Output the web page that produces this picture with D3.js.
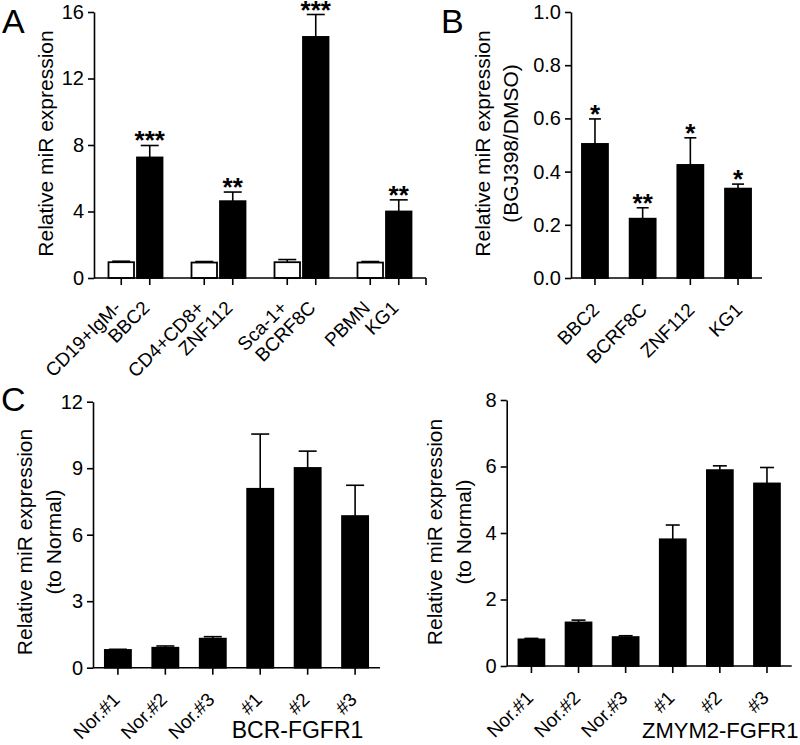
<!DOCTYPE html>
<html><head><meta charset="utf-8">
<script src="https://cdn.jsdelivr.net/npm/d3@7"></script>
<style>
body{margin:0;background:#fff}
svg{display:block}
text{font-family:"Liberation Sans",Arial,sans-serif;fill:#000}
</style>
</head><body>
<svg id="c" width="800" height="745"></svg>
<script>
// ---------- data ----------
const aCtrlLabels = ["CD19+IgM-", "CD4+CD8+", "Sca-1+", "PBMN"];
const aCellLabels = ["BBC2", "ZNF112", "BCRF8C", "KG1"];
const aCtrlValues = [0.95, 0.93, 0.95, 0.93];
const aCtrlErrors = [0.06, 0.06, 0.16, 0.06];
const aCellValues = [7.25, 4.62, 14.5, 4.0];
const aCellErrors = [0.72, 0.55, 1.35, 0.7];
const aStars = ["***", "**", "***", "**"];
const aTicks = [0, 4, 8, 12, 16];

const bLabels = ["BBC2", "BCRF8C", "ZNF112", "KG1"];
const bValues = [0.504, 0.223, 0.425, 0.336];
const bErrors = [0.094, 0.041, 0.102, 0.017];
const bStars = ["*", "**", "*", "*"];
const bTicks = [0, 0.2, 0.4, 0.6, 0.8, 1.0];

const cLabels = ["Nor.#1", "Nor.#2", "Nor.#3", "#1", "#2", "#3"];
const c1Values = [0.8, 0.9, 1.31, 8.07, 9.01, 6.84];
const c1Errors = [0.03, 0.08, 0.09, 2.47, 0.76, 1.39];
const c1Ticks = [0, 3, 6, 9, 12];
const c1Group = "BCR-FGFR1";
const c2Values = [0.8, 1.31, 0.87, 3.81, 5.89, 5.49];
const c2Errors = [0.03, 0.07, 0.04, 0.43, 0.13, 0.48];
const c2Ticks = [0, 2, 4, 6, 8];
const c2Group = "ZMYM2-FGFR1";

const yTitle = "Relative miR expression";

// ---------- helpers ----------
const svg = d3.select("#c");
const AX = 1.6;

function yAxis(x0, y, ticks, fmt) {
  const g = svg.append("g").attr("transform", `translate(${x0},0)`)
    .call(d3.axisLeft(y).tickValues(ticks).tickSize(6).tickPadding(4).tickSizeOuter(0).tickFormat(fmt));
  g.selectAll("path,line").attr("stroke", "#000").attr("stroke-width", AX);
  g.selectAll("text").attr("font-size", 20).attr("font-family", '"Liberation Sans",Arial,sans-serif');
  return g;
}
function xAxisLine(x0, x1, y0, tickXs) {
  svg.append("line").attr("x1", x0).attr("x2", x1).attr("y1", y0).attr("y2", y0)
    .attr("stroke", "#000").attr("stroke-width", AX);
  svg.selectAll(null).data(tickXs).enter().append("line")
    .attr("x1", d => d).attr("x2", d => d).attr("y1", y0).attr("y2", y0 + 7)
    .attr("stroke", "#000").attr("stroke-width", AX);
}
function bar(cx, w, v, e, y, fill, capW) {
  const y0 = y(0), yv = y(v), ye = y(v + e);
  svg.append("line").attr("x1", cx).attr("x2", cx).attr("y1", yv).attr("y2", ye)
    .attr("stroke", "#000").attr("stroke-width", AX);
  svg.append("line").attr("x1", cx - capW / 2).attr("x2", cx + capW / 2).attr("y1", ye).attr("y2", ye)
    .attr("stroke", "#000").attr("stroke-width", AX);
  svg.append("rect").attr("x", cx - w / 2).attr("y", yv).attr("width", w).attr("height", y0 - yv)
    .attr("fill", fill).attr("stroke", "#000").attr("stroke-width", 1.8);
}
function rotLabel(text, x, y, size) {
  svg.append("text").attr("transform", `translate(${x},${y}) rotate(-45)`)
    .attr("text-anchor", "end").attr("font-size", size || 19).text(text);
}
function stars(text, x, y) {
  svg.append("text").attr("x", x).attr("y", y).attr("text-anchor", "middle")
    .attr("font-size", 26).attr("font-weight", "bold").text(text);
}
function vTitle(lines, xs, cy) {
  lines.forEach((t, i) => {
    svg.append("text").attr("transform", `translate(${xs[i]},${cy}) rotate(-90)`)
      .attr("text-anchor", "middle").attr("font-size", 21).text(t);
  });
}
function letter(t, x, y) {
  svg.append("text").attr("x", x).attr("y", y).attr("font-size", 34).text(t);
}

// ---------- Panel A ----------
{
  const y = d3.scaleLinear().domain([0, 16]).range([278, 12]);
  const xg = d3.scaleBand().domain(aCellLabels).range([94, 426]);
  const xs = d3.scaleBand().domain(["ctrl", "cell"]).range([14, 69]).paddingInner(0.07);
  const w = 25.5;
  const ticks = [];
  aCellLabels.forEach((lab, i) => {
    const cc = xg(lab) + xs("ctrl") + xs.bandwidth() / 2;
    const ce = xg(lab) + xs("cell") + xs.bandwidth() / 2;
    ticks.push(cc, ce);
    bar(cc, w, aCtrlValues[i], aCtrlErrors[i], y, "#fff", 18);
    bar(ce, w, aCellValues[i], aCellErrors[i], y, "#000", 18);
    stars(aStars[i], ce, y(aCellValues[i] + aCellErrors[i]) + 4);
    rotLabel(aCtrlLabels[i], cc + 1, 309);
    rotLabel(aCellLabels[i], ce + 1, 309);
  });
  ticks.push(426);
  xAxisLine(94, 426, 278, ticks);
  yAxis(94, y, aTicks, d3.format("d"));
  vTitle([yTitle], [53], 143.5);
  letter("A", 2, 33);
}

// ---------- Panel B ----------
{
  const y = d3.scaleLinear().domain([0, 1]).range([278, 12]);
  const x = d3.scaleBand().domain(bLabels).range([571, 762]).paddingInner(0.455).paddingOuter(0.23);
  const ticks = [];
  bLabels.forEach((lab, i) => {
    const c = x(lab) + x.bandwidth() / 2;
    ticks.push(c);
    bar(c, x.bandwidth(), bValues[i], bErrors[i], y, "#000", 12);
    stars(bStars[i], c, y(bValues[i] + bErrors[i]) + 4);
    rotLabel(lab, c + 5.5, 311);
  });
  xAxisLine(571, 762, 278, ticks);
  yAxis(571, y, bTicks, d3.format(".1f"));
  vTitle([yTitle, "(BGJ398/DMSO)"], [490, 518], 143.5);
  letter("B", 441, 33);
}

// ---------- Panel C ----------
function panelC(x0, x1, yBottom, yTop, max, vals, errs, ticksY, group, groupX, groupAnchor, groupSize, titleXs, titleCy, capW) {
  const y = d3.scaleLinear().domain([0, max]).range([yBottom, yTop]);
  const x = d3.scaleBand().domain(cLabels).range([x0, x1]).paddingInner(0.45).paddingOuter(0.25);
  const ticks = [];
  cLabels.forEach((lab, i) => {
    const c = x(lab) + x.bandwidth() / 2;
    ticks.push(c);
    bar(c, x.bandwidth(), vals[i], errs[i], y, "#000", capW);
    rotLabel(lab, c + 3, yBottom + 33);
  });
  xAxisLine(x0, x1, yBottom, ticks);
  yAxis(x0, y, ticksY, d3.format("d"));
  svg.append("text").attr("x", groupX).attr("y", 738).attr("text-anchor", groupAnchor)
    .attr("font-size", groupSize).text(group);
  vTitle([yTitle, "(to Normal)"], titleXs, titleCy);
}
panelC(93, 380, 667.7, 401.7, 12, c1Values, c1Errors, c1Ticks, c1Group, 297.5, "middle", 23, [32, 61], 542, 18);
panelC(506.7, 791.7, 666, 400, 8, c2Values, c2Errors, c2Ticks, c2Group, 642, "start", 22, [442, 471], 532, 14);
letter("C", 1, 411);
</script>
</body></html>
